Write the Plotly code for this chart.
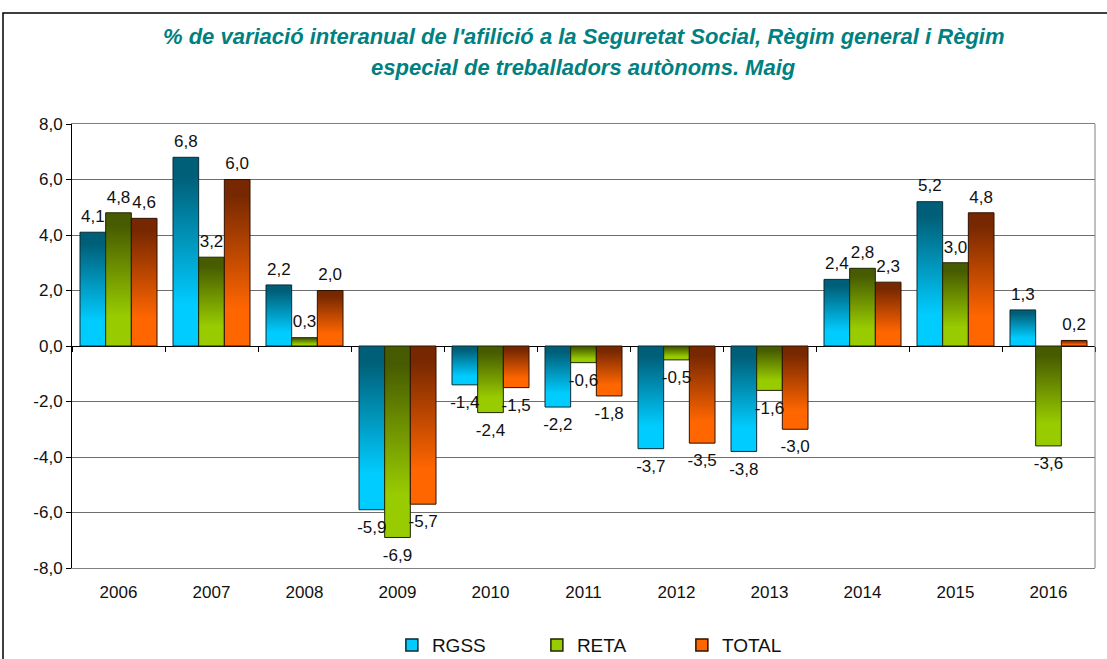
import plotly.graph_objects as go

years = ["2006", "2007", "2008", "2009", "2010", "2011", "2012", "2013", "2014", "2015", "2016"]
rgss = [4.1, 6.8, 2.2, -5.9, -1.4, -2.2, -3.7, -3.8, 2.4, 5.2, 1.3]
reta = [4.8, 3.2, 0.3, -6.9, -2.4, -0.6, -0.5, -1.6, 2.8, 3.0, -3.6]
total = [4.6, 6.0, 2.0, -5.7, -1.5, -1.8, -3.5, -3.0, 2.3, 4.8, 0.2]
series_names = ["RGSS", "RETA", "TOTAL"]
y_ticks = [-8, -6, -4, -2, 0, 2, 4, 6, 8]
y_tick_labels = ["-8,0", "-6,0", "-4,0", "-2,0", "0,0", "2,0", "4,0", "6,0", "8,0"]

title_line1 = "% de variació interanual de l'afilició a la Seguretat Social, Règim general i Règim"
title_line2 = "especial de treballadors autònoms. Maig"

# styles
bright = ["#00CCFF", "#99CC00", "#FF6600"]
dark = ["#005F78", "#475C00", "#782800"]
outline = ["#0B2A33", "#1E2600", "#2E1200"]
bar_w = 0.276
offsets = [-bar_w, 0.0, bar_w]
FONT = "Liberation Sans, Arial, Helvetica, sans-serif"

fig = go.Figure()
series = [rgss, reta, total]

for s, vals in enumerate(series):
    cs = [[0, bright[s]], [0.22, bright[s]], [0.9, dark[s]], [1, dark[s]]]
    for i, v in enumerate(vals):
        xc = i + offsets[s]
        xs = [xc - bar_w / 2, xc + bar_w / 2, xc + bar_w / 2, xc - bar_w / 2, xc - bar_w / 2]
        ys = [0, 0, v, v, 0]
        fig.add_trace(go.Scatter(
            x=xs, y=ys, mode="lines", fill="toself",
            fillgradient=dict(type="vertical", colorscale=cs),
            line=dict(color=outline[s], width=1),
            showlegend=False, hoverinfo="skip", name=series_names[s],
        ))

# legend entries
for s in range(3):
    fig.add_trace(go.Bar(
        x=[None], y=[None], name=series_names[s],
        marker=dict(color=bright[s], line=dict(color=outline[s], width=1.5)),
        showlegend=True,
    ))

# data labels
for s, vals in enumerate(series):
    fig.add_trace(go.Scatter(
        x=[i + offsets[s] for i in range(len(vals))],
        y=vals,
        xaxis="x2",
        mode="markers+text",
        marker=dict(size=[8 if v >= 0 else 15 for v in vals], opacity=0),
        text=[f"{v:.1f}".replace(".", ",") for v in vals],
        textposition=["top center" if v >= 0 else "bottom center" for v in vals],
        textfont=dict(family=FONT, size=17, color="#111111"),
        showlegend=False, hoverinfo="skip", cliponaxis=False,
    ))

fig.update_layout(
    width=1107, height=659,
    margin=dict(l=72, r=12, t=124, b=91),
    paper_bgcolor="white", plot_bgcolor="white",
    separators=",.",
    showlegend=True,
    xaxis=dict(
        type="linear", range=[-0.5, len(years) - 0.5],
        tickvals=list(range(len(years))), ticktext=years,
        showgrid=False, zeroline=False, ticks="",
        ticklabelstandoff=9,
        showline=True, linecolor="#808080", linewidth=1, mirror=True,
        tickfont=dict(family=FONT, size=17, color="#111111"),
    ),
    xaxis2=dict(
        type="linear", range=[-0.5, len(years) - 0.5], overlaying="x",
        anchor="free", position=0.5,
        tickvals=[k - 0.5 for k in range(len(years) + 1)],
        ticks="outside", ticklen=5, tickcolor="black", tickwidth=1,
        showticklabels=False, showgrid=False, zeroline=False, showline=False,
    ),
    yaxis=dict(
        range=[-8, 8], tickvals=y_ticks, ticktext=y_tick_labels,
        showgrid=True, gridcolor="#6E6E6E", gridwidth=1,
        zeroline=True, zerolinecolor="black", zerolinewidth=1,
        showline=True, linecolor="black", linewidth=1,
        ticks="outside", ticklen=5, tickcolor="black",
        tickfont=dict(family=FONT, size=17, color="#111111"),
    ),
    legend=dict(
        orientation="h", xref="container", yref="container",
        x=0.354, y=0.0212, xanchor="left", yanchor="middle",
        font=dict(family=FONT, size=19, color="#111111"),
        entrywidth=100, bgcolor="rgba(0,0,0,0)",
    ),
    annotations=[
        dict(text=title_line1, xref="paper", yref="paper", x=0.5, y=(568 - 36) / 444,
             showarrow=False, xanchor="center", yanchor="middle",
             font=dict(family=FONT, size=22, color="#008080", weight="bold", style="italic")),
        dict(text=title_line2, xref="paper", yref="paper", x=0.5, y=(568 - 67) / 444,
             showarrow=False, xanchor="center", yanchor="middle",
             font=dict(family=FONT, size=22, color="#008080", weight="bold", style="italic")),
    ],
    shapes=[
        dict(type="rect", xref="paper", yref="paper",
             x0=(3 - 72) / 1023, x1=(1112 - 72) / 1023,
             y0=(568 - 13) / 444, y1=(568 - 670) / 444,
             line=dict(color="black", width=1.5), fillcolor="rgba(0,0,0,0)", layer="below"),
        dict(type="line", xref="paper", yref="paper", x0=1, x1=1, y0=0, y1=1,
             line=dict(color="#808080", width=1)),
    ],
)

fig.write_html(
    "out.html",
    config={"displayModeBar": False},
    post_script="document.body.style.margin='0px';document.body.style.overflow='hidden';",
)
